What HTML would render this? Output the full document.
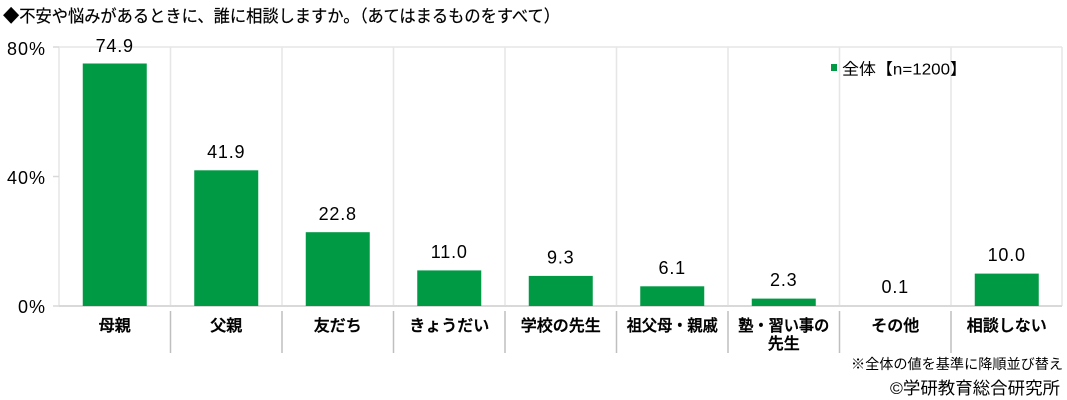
<!DOCTYPE html>
<html>
<head>
<meta charset="utf-8">
<style>
  html, body { margin:0; padding:0; background:#fff; }
  body { width:1067px; height:400px; overflow:hidden; }
  svg { display:block; }
  .jp { font-family: "Liberation Sans", "Noto Sans CJK JP", sans-serif; }
  .num { font-family: "Liberation Sans", "Noto Sans CJK JP", sans-serif; }
</style>
</head>
<body>
<svg width="1067" height="400" viewBox="0 0 1067 400" xmlns="http://www.w3.org/2000/svg">
  <!-- title -->
  <text class="jp" x="3" y="22" font-size="17" fill="#000" stroke="#000" stroke-width="0.2" textLength="557" lengthAdjust="spacingAndGlyphs">◆不安や悩みがあるときに、誰に相談しますか。（あてはまるものをすべて）</text>

  <!-- vertical gridlines in plot -->
  <g stroke="#e6e6e6" stroke-width="1.5">
    <line x1="59" y1="47" x2="59" y2="306"/>
    <line x1="170.5" y1="47" x2="170.5" y2="306"/>
    <line x1="282" y1="47" x2="282" y2="306"/>
    <line x1="393.5" y1="47" x2="393.5" y2="306"/>
    <line x1="505" y1="47" x2="505" y2="306"/>
    <line x1="616.5" y1="47" x2="616.5" y2="306"/>
    <line x1="728" y1="47" x2="728" y2="306"/>
    <line x1="839.5" y1="47" x2="839.5" y2="306"/>
    <line x1="951" y1="47" x2="951" y2="306"/>
    <line x1="1062" y1="47" x2="1062" y2="306"/>
    <line x1="59" y1="47" x2="1062" y2="47"/>
  </g>
  <!-- y ticks -->
  <g stroke="#d9d9d9" stroke-width="1.5">
    <line x1="53" y1="47" x2="59" y2="47"/>
    <line x1="53" y1="176.5" x2="59" y2="176.5"/>
    <line x1="53" y1="306" x2="59" y2="306"/>
  </g>
  <!-- baseline -->
  <line x1="59" y1="306" x2="1062" y2="306" stroke="#d9d9d9" stroke-width="2"/>

  <!-- category dividers below axis -->
  <g stroke="#bfbfbf" stroke-width="1.5">
    <line x1="170.5" y1="311" x2="170.5" y2="353"/>
    <line x1="282" y1="311" x2="282" y2="353"/>
    <line x1="393.5" y1="311" x2="393.5" y2="353"/>
    <line x1="505" y1="311" x2="505" y2="353"/>
    <line x1="616.5" y1="311" x2="616.5" y2="353"/>
    <line x1="728" y1="311" x2="728" y2="353"/>
    <line x1="839.5" y1="311" x2="839.5" y2="353"/>
    <line x1="951" y1="311" x2="951" y2="353"/>
  </g>

  <!-- y axis labels -->
  <g class="num" font-size="18" fill="#000" text-anchor="end" letter-spacing="1">
    <text x="46" y="55">80%</text>
    <text x="46" y="184">40%</text>
    <text x="46" y="313">0%</text>
  </g>

  <!-- bars -->
  <g fill="#009944">
    <rect x="82.75" y="63.5" width="64" height="242.5"/>
    <rect x="194.25" y="170.3" width="64" height="135.7"/>
    <rect x="305.75" y="232.2" width="64" height="73.8"/>
    <rect x="417.25" y="270.4" width="64" height="35.6"/>
    <rect x="528.75" y="275.9" width="64" height="30.1"/>
    <rect x="640.25" y="286.3" width="64" height="19.7"/>
    <rect x="751.75" y="298.6" width="64" height="7.4"/>
    <rect x="974.75" y="273.6" width="64" height="32.4"/>
  </g>

  <!-- value labels -->
  <g class="num" font-size="18" fill="#000" text-anchor="middle" letter-spacing="0.8">
    <text x="114.75" y="52">74.9</text>
    <text x="226.25" y="158">41.9</text>
    <text x="337.75" y="220">22.8</text>
    <text x="449.25" y="258">11.0</text>
    <text x="560.75" y="263.5">9.3</text>
    <text x="672.25" y="274">6.1</text>
    <text x="783.75" y="286">2.3</text>
    <text x="895.25" y="293">0.1</text>
    <text x="1006.75" y="261">10.0</text>
  </g>

  <!-- category labels -->
  <g class="jp" font-size="16" font-weight="500" fill="#000" stroke="#000" stroke-width="0.4" text-anchor="middle">
    <text x="114.75" y="331">母親</text>
    <text x="226.25" y="331">父親</text>
    <text x="337.75" y="331">友だち</text>
    <text x="449.25" y="331">きょうだい</text>
    <text x="560.75" y="331">学校の先生</text>
    <text x="672.25" y="331" textLength="91" lengthAdjust="spacingAndGlyphs">祖父母・親戚</text>
    <text x="783.75" y="331" textLength="91" lengthAdjust="spacingAndGlyphs">塾・習い事の</text>
    <text x="783.75" y="349">先生</text>
    <text x="895.25" y="331">その他</text>
    <text x="1006.75" y="331">相談しない</text>
  </g>

  <!-- legend -->
  <rect x="831" y="64" width="6" height="7" fill="#009944"/>
  <text class="jp" x="842" y="74.5" font-size="16" fill="#000" textLength="125" lengthAdjust="spacingAndGlyphs">全体【n=1200】</text>

  <!-- footnotes -->
  <text class="jp" x="1063" y="369" font-size="14" fill="#000" text-anchor="end" textLength="212" lengthAdjust="spacingAndGlyphs">※全体の値を基準に降順並び替え</text>
  <text class="jp" x="1060" y="394" font-size="17" fill="#000" text-anchor="end" textLength="170" lengthAdjust="spacingAndGlyphs">©学研教育総合研究所</text>
</svg>
</body>
</html>
